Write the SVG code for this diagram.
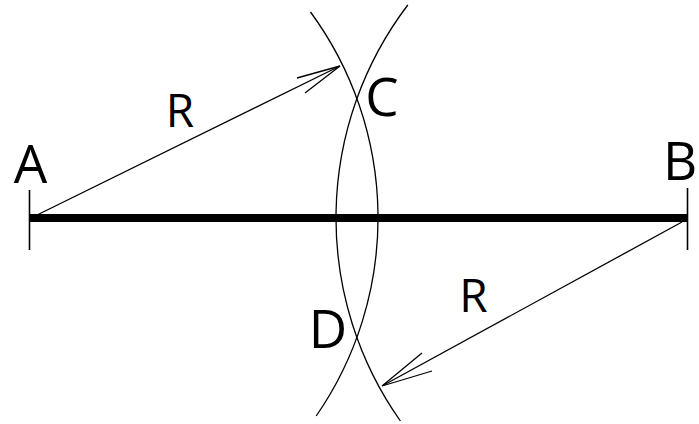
<svg xmlns="http://www.w3.org/2000/svg" width="699" height="424" viewBox="0 0 699 424">
<style>
.thin{fill:none;stroke:#000;stroke-width:1.3}
.thick{fill:none;stroke:#000;stroke-width:8}
.tick{fill:none;stroke:#000;stroke-width:1.6}
.lbl{font-family:"Open Sans","Liberation Sans",sans-serif;fill:#000;text-anchor:middle}
.big{font-size:53px}
.mid{font-size:46px}
</style>
<rect width="699" height="424" fill="#fff"/>
<g id="segment-AB">
<line class="thick" x1="30" y1="218" x2="688" y2="218"/>
</g>
<g id="point-A">
<line class="tick" x1="29.5" y1="190" x2="29.5" y2="250"/>
<text class="lbl big" x="30.5" y="183">A</text>
</g>
<g id="point-B">
<line class="tick" x1="687.5" y1="188" x2="687.5" y2="250"/>
<text class="lbl big" x="680" y="180">B</text>
</g>
<g id="arc-A">
<path class="thin" d="M310.5,12 A348,348 0 0 1 316.2,416"/>
</g>
<g id="arc-B">
<path class="thin" d="M407.8,5 A352,352 0 0 0 400.4,421"/>
</g>
<g id="point-C">
<text class="lbl big" x="382" y="116">C</text>
</g>
<g id="point-D">
<text class="lbl big" x="328" y="348">D</text>
</g>
<g id="connectors">
<line class="thin" x1="33" y1="217" x2="340" y2="66"/>
<polyline class="thin" points="297,78 340,66 305,93"/>
<line class="thin" x1="682" y1="222" x2="382" y2="386"/>
<polyline class="thin" points="422,353 382,386 432,371"/>
</g>
<g id="labels-R">
<text class="lbl mid" x="180" y="126.5">R</text>
<text class="lbl mid" x="473.5" y="311.5">R</text>
</g>
</svg>
